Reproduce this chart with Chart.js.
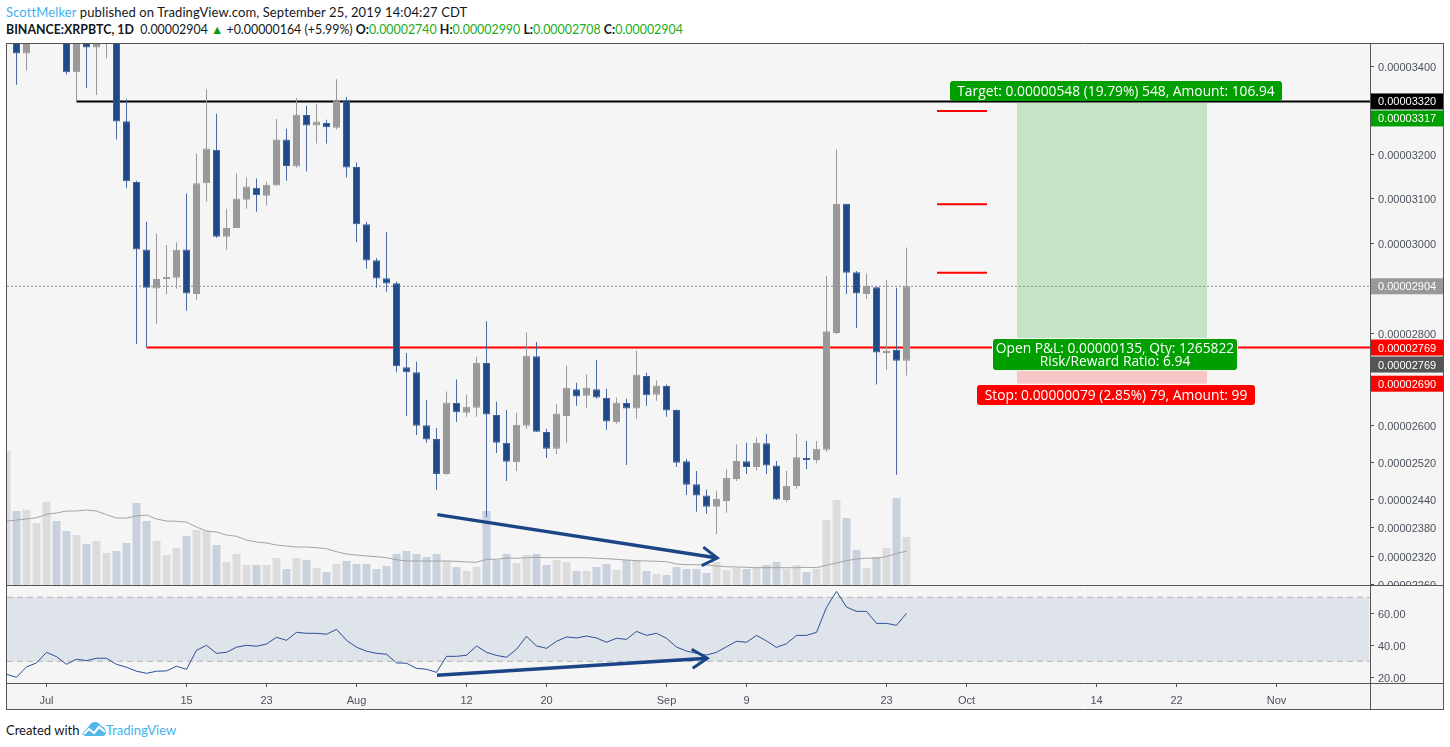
<!DOCTYPE html>
<html>
<head>
<meta charset="utf-8">
<title>XRPBTC</title>
<script src="https://cdn.jsdelivr.net/npm/chart.js@4/dist/chart.umd.js"></script>
<style>
  html, body { margin: 0; background: #fff; overflow: hidden; }
  canvas { position: absolute; left: 0; }
  #priceChart { top: 43px; }
  #rsiChart { top: 585px; }
  .head { position: absolute; left: 6px; font: 13px Lato, sans-serif; color: #131722; white-space: nowrap; }
  .head b { font-weight: 700; }
  .head .up { color: #22ab22; }
  .head .name { color: #3fb1ec; }
  .box { position: absolute; color: #fff; font: 13.8px "Open Sans", sans-serif; text-align: center; border-radius: 3px; white-space: nowrap; }
  #targetBox { left: 950px; top: 81px; width: 332px; height: 20px; line-height: 20px; background: #009f00; }
  #pnlBox { left: 993px; top: 339px; width: 244px; height: 29px; padding-top: 2px; line-height: 13px; background: #009f00; box-shadow: 0 0 0 1px #f5f5f5; }
  #stopBox { left: 977px; top: 385px; width: 278px; height: 20px; line-height: 20px; background: #f00; }
  #logo { position: absolute; left: 82px; top: 721px; }
</style>
</head>
<body>
<div class="head" style="top:4px;letter-spacing:0.12px"><span class="name">ScottMelker</span> published on TradingView.com, September 25, 2019 14:04:27 CDT</div>
<div class="head" style="top:22px;font-size:12.4px"><b>BINANCE:XRPBTC, 1D</b>&nbsp; 0.00002904 <span style="color:#0a9a0a">▲</span> +0.00000164 (+5.99%) <b>O:</b><span class="up">0.00002740</span> <b>H:</b><span class="up">0.00002990</span> <b>L:</b><span class="up">0.00002708</span> <b>C:</b><span class="up">0.00002904</span></div>
<canvas id="priceChart" width="1450" height="542"></canvas>
<canvas id="rsiChart" width="1450" height="125"></canvas>
<div class="box" id="targetBox">Target: 0.00000548 (19.79%) 548, Amount: 106.94</div>
<div class="box" id="pnlBox">Open P&amp;L: 0.00000135, Qty: 1265822<br>Risk/Reward Ratio: 6.94</div>
<div class="box" id="stopBox">Stop: 0.00000079 (2.85%) 79, Amount: 99</div>
<div class="head" style="top:722px">Created with</div>
<svg id="logo" width="24" height="16" viewBox="0 0 24 16"><path d="M0 13 L7 5 Q9 1 13 1 Q17 1 19 5 Q23 6 24 11 Q24 15 20 15 L3 15 Z" fill="#4fb8e8"/><path d="M2 13 L7 8 L12 12 L17 6 L23 11" fill="none" stroke="#fff" stroke-width="2"/></svg>
<div class="head" style="top:722px;left:106px;color:#3fb1ec">TradingView</div>
<script>
// prices are in satoshi (1e-8 BTC), candles run one per day from 27 Jun 2019
const openPrices = [3500,3520,3430,3500,3540,3590,3510,3387,3480,3444,3470,3510,3275,3137,2986,2899,2920,2923,2986,2887,3134,3210,3014,3034,3097,3124,3106,3129,3233,3172,3289,3265,3271,3260,3323,3171,3042,2962,2922,2911,2726,2715,2600,2570,2495,2648,2627,2638,2735,2622,2562,2520,2599,2750,2585,2549,2620,2678,2664,2678,2659,2607,2648,2636,2707,2666,2685,2633,2522,2473,2449,2425,2437,2484,2522,2510,2561,2513,2439,2469,2529,2525,2547,2801,3088,2935,2887,2902,2757,2764,2740];
const highPrices = [3600,3540,3530,3560,3600,3620,3540,3520,3500,3500,3520,3530,3325,3140,3048,3021,2996,3002,3111,3201,3348,3292,3077,3156,3147,3145,3138,3280,3258,3328,3310,3314,3278,3371,3330,3181,3048,2967,3025,2914,2757,2738,2655,2594,2673,2699,2666,2749,2827,2651,2633,2627,2802,2781,2592,2646,2729,2692,2710,2742,2679,2660,2657,2762,2714,2697,2688,2634,2527,2501,2461,2459,2505,2558,2562,2573,2581,2523,2501,2581,2566,2566,2927,3210,3088,2938,2932,2903,2918,2901,2990];
const lowPrices = [3470,3358,3391,3470,3500,3480,3382,3321,3351,3335,3419,3233,3123,2777,2770,2821,2887,2899,2850,2874,3093,3012,2985,3034,3077,3070,3084,3129,3140,3170,3161,3224,3224,3256,3147,3002,2943,2901,2892,2715,2620,2579,2562,2461,2493,2607,2618,2618,2403,2540,2480,2501,2592,2585,2529,2538,2562,2642,2638,2657,2590,2603,2514,2614,2642,2653,2618,2510,2450,2414,2410,2367,2412,2480,2495,2503,2495,2439,2435,2463,2505,2518,2542,2799,2887,2812,2876,2688,2720,2493,2708];
const closePrices = [3560,3430,3500,3540,3590,3510,3387,3480,3444,3470,3510,3274,3139,2986,2901,2920,2925,2985,2888,3134,3213,3014,3034,3100,3127,3107,3131,3233,3173,3290,3265,3274,3261,3323,3170,3042,2961,2921,2910,2728,2715,2599,2569,2495,2649,2628,2640,2736,2623,2562,2521,2601,2751,2586,2549,2625,2681,2662,2681,2660,2608,2649,2636,2710,2665,2686,2632,2519,2472,2449,2425,2442,2486,2523,2510,2562,2513,2440,2469,2531,2525,2549,2805,3088,2934,2888,2905,2758,2762,2740,2904];
const volumes = [134,74,75,62,83,64,54,50,41,44,32,34,42,82,64,44,30,37,49,55,54,40,23,31,20,20,20,27,16,27,25,17,13,21,24,21,21,16,19,31,34,31,28,31,24,18,14,18,74,25,31,22,30,31,20,25,23,14,14,18,21,15,25,25,14,11,10,18,16,16,12,23,15,17,16,17,20,23,16,20,13,16,65,85,67,35,17,28,37,87,48];
const volumeAverage = [63.7,65,66,67.3,70.7,72,74,74,75,74,70.3,67,67,69,70,66,64,63.7,63,58,54,53,50,48.7,45,43,42,40,39,38,38,37.3,36.3,33.3,31,30,29,28.3,27.3,25.3,24,24,24,24,24,23.7,23,22.7,25.7,25.7,27,26.7,27.3,27.7,27.3,27.3,27.3,27.3,27.3,26.7,26.3,25.7,25,24.3,24,23.7,23.3,21,20.3,20.3,20,19,18.3,18,17.7,17.3,17.3,17.3,17.3,17.3,17.7,17.3,19.7,22,24.3,26,26.7,27,28.3,31.7,33.7];
const rsiValues = [21.9,20,26.5,29,35.6,32.9,28.1,31.3,30.4,31.9,31.9,28.1,26.3,23.8,22.5,23.8,24,26.9,25,36.9,40,35,35.6,38.8,40,39.4,40.8,45,43.1,48.1,47.5,47.5,46.9,50,43.1,38.8,36.3,35,34.4,29,28.8,25.6,25,23.1,33.1,33.1,33.8,39.6,35.6,33.7,32.5,37.5,45.6,39.6,38.1,42.5,45.2,44.6,45.8,44.6,41.9,44.4,43.7,48.7,46.2,47.5,44.4,38.9,36.4,35,33.9,35.6,39.1,42.5,41.9,46.2,42.7,38.7,41,46.2,46.2,48.1,63.7,73.7,63.9,61.2,61.2,53.7,53.7,52.5,60];

const xTickDays = [4,18,26,35,46,54,66,74,88,96,109,117,127];
const xTickLabels = ["Jul","15","23","Aug","12","20","Sep","9","23","Oct","14","22","Nov"];
const priceTicks = [3400,3200,3100,3000,2800,2600,2520,2440,2380,2320,2260];
const rsiTicks = [60,40,20];

const priceTagValues = [3320,3317,2904,2769,2769,2690];
const priceTagColors = ["#000000","#009f00","#999999","#ff0000","#555555","#ff0000"];

const resistanceX = [7,136.35], resistanceY = [3320,3320];
const stopLineX = [14,136.35], stopLineY = [2769,2769];
const lastPriceX = [0.05,136.35], lastPriceY = [2904,2904];
const takeProfitX = [93.05,98.05], takeProfitLevels = [3298,3087,2934];
const positionX = [101.05,120.05], targetPrice = 3317, entryPrice = 2769, stopPrice = 2690;
const priceArrowX = [43.08,71.08], priceArrowY = [2408,2316];
const priceHeadX = [69.68,71.08,69.52], priceHeadY = [2339,2316,2300];
const rsiArrowX = [43.05,70.08], rsiArrowY = [21.25,31.9];
const rsiHeadX = [68.52,70.08,68.62], rsiHeadY = [37.5,31.9,25.6];

const xMin = 0.05, xMax = 136.35;
const days = openPrices.map((v, i) => i);
const isDown = days.map(i => closePrices[i] < openPrices[i]);
const toPoints = (xs, ys) => xs.map((x, i) => ({x: x, y: ys[i]}));
const axisFont = {family: "Liberation Sans", size: 11};
const axisColor = "#4c525e";
const noLabelPadding = s => { s.paddingTop = 0; s.paddingBottom = 0; s.paddingLeft = 0; s.paddingRight = 0; };

// tradingview log price axis: log(price + offset), offset is 0.0001 BTC
class PriceLogScale extends Chart.LinearScale {
  static id = "pricelog";
  static defaults = Chart.LinearScale.defaults;
  getPixelForValue(value) {
    const lo = Math.log(this.min + 10000), hi = Math.log(this.max + 10000);
    return this.getPixelForDecimal((Math.log(value + 10000) - lo) / (hi - lo));
  }
  getValueForPixel(pixel) {
    const lo = Math.log(this.min + 10000), hi = Math.log(this.max + 10000);
    return Math.exp(lo + this.getDecimalForPixel(pixel) * (hi - lo)) - 10000;
  }
}
Chart.register(PriceLogScale);

const paneFrame = {
  id: "paneFrame",
  beforeDraw(chart) {
    const c = chart.ctx;
    c.save();
    c.fillStyle = "#f5f5f5";
    c.fillRect(7, 0, 1436, chart.height);
    c.restore();
  },
  afterDraw(chart) {
    const c = chart.ctx, a = chart.chartArea;
    c.save();
    c.strokeStyle = "#555";
    c.lineWidth = 1;
    c.beginPath();
    c.moveTo(6.5, 0); c.lineTo(6.5, chart.height);
    c.moveTo(1370.5, 0); c.lineTo(1370.5, chart.height);
    c.moveTo(1443.5, 0); c.lineTo(1443.5, chart.height);
    c.moveTo(6, 0.5); c.lineTo(1444, 0.5);
    if (chart.canvas.id === "rsiChart") {
      c.moveTo(6, a.bottom + 0.5); c.lineTo(1444, a.bottom + 0.5);
      c.moveTo(6, chart.height - 0.5); c.lineTo(1444, chart.height - 0.5);
    }
    c.stroke();
    c.restore();
  }
};

// coloured price boxes on the axis, pushed down when they would overlap
const priceTags = {
  id: "priceTags",
  afterDraw(chart) {
    const c = chart.ctx, s = chart.scales.y;
    let prev = -100;
    c.save();
    c.font = "11px 'Liberation Sans'";
    c.textBaseline = "middle";
    priceTagValues.forEach((v, i) => {
      let y = s.getPixelForValue(v);
      if (y < prev + 17) y = prev + 17;
      prev = y;
      c.fillStyle = priceTagColors[i];
      c.fillRect(1371, y - 8, 72, 16);
      c.fillStyle = "#fff";
      c.fillText((v / 1e8).toFixed(8), 1378, y + 1);
    });
    c.restore();
  }
};

const lineSet = (points, color, width, order, extra) => Object.assign({
  type: "line", data: points, borderColor: color, borderWidth: width,
  pointRadius: 0, tension: 0, order: order, yAxisID: "y"
}, extra || {});

const barSet = (values, colors, border, thick, order, axis) => ({
  type: "bar", data: values, backgroundColor: colors, borderColor: border,
  borderWidth: border ? 1 : 0, borderSkipped: false, grouped: false,
  barPercentage: 1, maxBarThickness: thick, order: order, yAxisID: axis
});

new Chart(document.getElementById("priceChart"), {
  data: {
    datasets: [
      lineSet(toPoints(priceArrowX, priceArrowY), "#1c4587", 3.5, 0),
      lineSet(toPoints(priceHeadX, priceHeadY), "#1c4587", 3, 0),
      barSet(days.map(i => ({x: i, y: [openPrices[i], closePrices[i]]})), days.map(i => isDown[i] ? "#1f4a8a" : "#999999"), days.map(i => isDown[i] ? "#3c6199" : "#999999"), 7, 1, "y"),
      barSet(days.map(i => ({x: i, y: [lowPrices[i], highPrices[i]]})), days.map(i => isDown[i] ? "#4a6a9f" : "#999999"), null, 1, 2, "y"),
      lineSet(toPoints(resistanceX, resistanceY), "#000000", 2, 3),
      lineSet(toPoints(stopLineX, stopLineY), "#ff0000", 2, 3),
      ...takeProfitLevels.map(v => lineSet(toPoints(takeProfitX, [v, v]), "#ff0000", 2, 3)),
      lineSet(toPoints(lastPriceX, lastPriceY), "#888888", 1, 4, {borderDash: [2, 2]}),
      lineSet(days.map(i => ({x: i, y: volumeAverage[i]})), "#a3a3a3", 1, 5, {yAxisID: "vol"}),
      barSet(days.map(i => ({x: i, y: volumes[i]})), days.map(i => isDown[i] ? "#c9d1df" : "#dcdcdc"), null, 9, 6, "vol"),
      lineSet(toPoints(positionX, [targetPrice, targetPrice]), "rgba(0,0,0,0)", 0, 7, {fill: {value: entryPrice}, backgroundColor: "#c5e4c5"}),
      lineSet(toPoints(positionX, [entryPrice, entryPrice]), "rgba(0,0,0,0)", 0, 7, {fill: {value: stopPrice}, backgroundColor: "#f6c5c5"})
    ]
  },
  options: {
    responsive: false,
    animation: false,
    events: [],
    devicePixelRatio: 1,
    layout: {padding: {left: 7, right: 7, top: 1, bottom: 0}},
    plugins: {legend: {display: false}, tooltip: {enabled: false}},
    scales: {
      x: {type: "linear", min: xMin, max: xMax, display: false, bounds: "data", offset: false},
      vol: {type: "linear", min: 0, max: 541, display: false, bounds: "data"},
      y: {
        type: "pricelog", position: "right", min: 2259, max: 3452, bounds: "data",
        border: {display: false},
        grid: {drawOnChartArea: false, color: "#555", tickLength: 4},
        ticks: {autoSkip: false, padding: 4, labelOffset: 1.5, font: axisFont, color: axisColor, callback: v => (v / 1e8).toFixed(8)},
        afterBuildTicks: s => { s.ticks = priceTicks.map(v => ({value: v})); },
        afterFit: s => { s.width = 73; noLabelPadding(s); }
      }
    }
  },
  plugins: [paneFrame, priceTags]
});

new Chart(document.getElementById("rsiChart"), {
  data: {
    datasets: [
      lineSet(toPoints(rsiArrowX, rsiArrowY), "#1c4587", 3.5, 0),
      lineSet(toPoints(rsiHeadX, rsiHeadY), "#1c4587", 3, 0),
      lineSet(days.map(i => ({x: i, y: rsiValues[i]})), "#2a5096", 1, 1),
      lineSet(toPoints([xMin, xMax], [70, 70]), "#b5b5b5", 1, 2, {borderDash: [6, 4]}),
      lineSet(toPoints([xMin, xMax], [30, 30]), "#b5b5b5", 1, 2, {borderDash: [6, 4]}),
      lineSet(toPoints([xMin, xMax - 0.1], [70, 70]), "rgba(0,0,0,0)", 0, 3, {fill: {value: 30}, backgroundColor: "#dfe3ea"})
    ]
  },
  options: {
    responsive: false,
    animation: false,
    events: [],
    devicePixelRatio: 1,
    layout: {padding: {left: 7, right: 7, top: 1, bottom: 0}},
    plugins: {legend: {display: false}, tooltip: {enabled: false}},
    scales: {
      x: {
        type: "linear", min: xMin, max: xMax, bounds: "data",
        border: {display: false},
        grid: {drawOnChartArea: false, color: "#555", tickLength: 4},
        ticks: {autoSkip: false, maxRotation: 0, padding: 7, font: axisFont, color: axisColor, callback: (v, i) => xTickLabels[i]},
        afterBuildTicks: s => { s.ticks = xTickDays.map(v => ({value: v})); },
        afterFit: s => { s.height = 27; noLabelPadding(s); }
      },
      y: {
        type: "linear", position: "right", min: 16.44, max: 77.06, bounds: "data",
        border: {display: false},
        grid: {drawOnChartArea: false, color: "#555", tickLength: 4},
        ticks: {autoSkip: false, padding: 4, labelOffset: 1.5, font: axisFont, color: axisColor, callback: v => v.toFixed(2)},
        afterBuildTicks: s => { s.ticks = rsiTicks.map(v => ({value: v})); },
        afterFit: s => { s.width = 73; noLabelPadding(s); }
      }
    }
  },
  plugins: [paneFrame]
});
</script>
</body>
</html>
